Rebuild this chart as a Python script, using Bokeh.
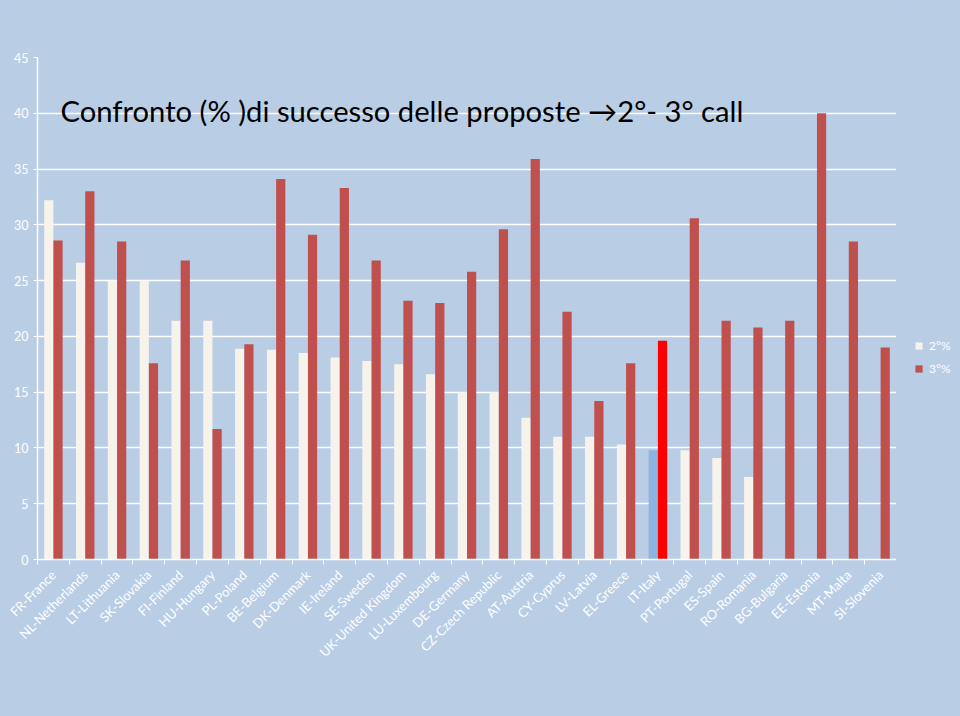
import math
from bokeh.plotting import figure
from bokeh.layouts import row
from bokeh.models import (Range1d, FixedTicker, Legend, LegendItem, Label,
                          ColumnDataSource)
from bokeh.transform import dodge
from bokeh.embed import file_html
from bokeh.resources import INLINE

countries = ["FR-France", "NL-Netherlands", "LT-Lithuania", "SK-Slovakia",
             "FI-Finland", "HU-Hungary", "PL-Poland", "BE-Belgium",
             "DK-Denmark", "IE-Ireland", "SE-Sweden", "UK-United Kingdom",
             "LU-Luxembourg", "DE-Germany", "CZ-Czech Republic", "AT-Austria",
             "CY-Cyprus", "LV-Latvia", "EL-Greece", "IT-Italy", "PT-Portugal",
             "ES-Spain", "RO-Romania", "BG-Bulgaria", "EE-Estonia",
             "MT-Malta", "SI-Slovenia"]
pct_2 = [32.2, 26.6, 25.0, 25.0, 21.4, 21.4, 18.9, 18.8, 18.5, 18.1, 17.8,
         17.5, 16.6, 15.0, 15.0, 12.7, 11.0, 11.0, 10.3, 9.8, 9.8, 9.1, 7.4,
         0, 0, 0, 0]
pct_3 = [28.6, 33.0, 28.5, 17.6, 26.8, 11.7, 19.3, 34.1, 29.1, 33.3, 26.8,
         23.2, 23.0, 25.8, 29.6, 35.9, 22.2, 14.2, 17.6, 19.6, 30.6, 21.4,
         20.8, 21.4, 40.0, 28.5, 19.0]
series_labels = ["2°%", "3°%"]
y_ticks = [0, 5, 10, 15, 20, 25, 30, 35, 40, 45]
title_text = "Confronto (% )di successo delle proposte \u21922°- 3° call"
highlight = "IT-Italy"

BG = "#b9cde5"
CREAM = "#f5f3ec"
RED = "#c0504d"
HL2 = "#8db3e2"
HL3 = "#ff0000"
FONT = "Lato"

n = len(countries)
xs = [i + 0.5 for i in range(n)]
c2 = [HL2 if c == highlight else CREAM for c in countries]
c3 = [HL3 if c == highlight else RED for c in countries]
source = ColumnDataSource(dict(x=xs, p2=pct_2, p3=pct_3, c2=c2, c3=c3))

p = figure(width=896, height=716, x_range=Range1d(0, n),
           y_range=Range1d(0, 45), output_backend="svg",
           toolbar_location=None, background_fill_color=BG,
           border_fill_color=BG, outline_line_color=None,
           min_border_left=37, min_border_right=0, min_border_top=57,
           min_border_bottom=157)

r2 = p.vbar(x=dodge("x", -0.145, range=p.x_range), top="p2", width=0.29,
            fill_color="c2", line_color=None, source=source)
r3 = p.vbar(x=dodge("x", 0.145, range=p.x_range), top="p3", width=0.29,
            fill_color="c3", line_color=None, source=source)

# x axis
xa = p.xaxis[0]
xa.ticker = FixedTicker(ticks=xs, minor_ticks=list(range(n + 1)))
xa.major_label_overrides = {x: c for x, c in zip(xs, countries)}
xa.major_label_orientation = math.pi / 4
xa.major_tick_line_color = None
xa.major_tick_out = 0
xa.major_tick_in = 0
xa.minor_tick_line_color = "white"
xa.minor_tick_out = 5
xa.minor_tick_in = 0
xa.axis_line_color = "white"
xa.axis_line_width = 1.5
xa.major_label_text_color = "white"
xa.major_label_text_font = FONT
xa.major_label_text_font_size = "13px"
xa.major_label_standoff = 8

# y axis
ya = p.yaxis[0]
ya.ticker = FixedTicker(ticks=y_ticks)
ya.minor_tick_line_color = None
ya.major_tick_line_color = "white"
ya.major_tick_out = 4
ya.major_tick_in = 0
ya.axis_line_color = "white"
ya.axis_line_width = 1.5
ya.major_label_text_color = "white"
ya.major_label_text_font = FONT
ya.major_label_text_font_size = "12.5px"
ya.major_label_standoff = 5

p.xgrid.visible = False
p.ygrid.grid_line_color = "white"
p.ygrid.grid_line_width = 1.3

title = Label(x=23, y=449, x_units="screen", y_units="screen",
              text=title_text, text_font=FONT, text_font_size="29.2px",
              text_color="black", text_baseline="alphabetic")
p.add_layout(title)

# legend panel on the right (its renderers are hidden; they only feed the legend)
lg = figure(width=64, height=716, output_backend="svg", toolbar_location=None,
            x_axis_location=None, y_axis_location=None,
            background_fill_color=BG, border_fill_color=BG,
            outline_line_color=None, min_border=0,
            x_range=Range1d(0, 1), y_range=Range1d(0, 1))
lg.grid.visible = False
g2 = lg.vbar(x="x", top="p2", width=0.29, fill_color="c2", line_color=None,
             source=source, visible=False)
g3 = lg.vbar(x="x", top="p3", width=0.29, fill_color="c3", line_color=None,
             source=source, visible=False)
legend = Legend(items=[LegendItem(label=series_labels[0], renderers=[g2], index=0),
                       LegendItem(label=series_labels[1], renderers=[g3], index=0)],
                location=(18, 183), orientation="vertical",
                background_fill_alpha=0, border_line_color=None,
                inactive_fill_alpha=0,
                padding=0, margin=0, spacing=8,
                glyph_width=9, glyph_height=9, label_standoff=6,
                label_text_color="white", label_text_font=FONT,
                label_text_font_size="12px", label_height=10)
lg.add_layout(legend, "center")

layout = row(p, lg, styles={"background-color": BG})
open("out.html", "w").write(file_html(layout, INLINE))
